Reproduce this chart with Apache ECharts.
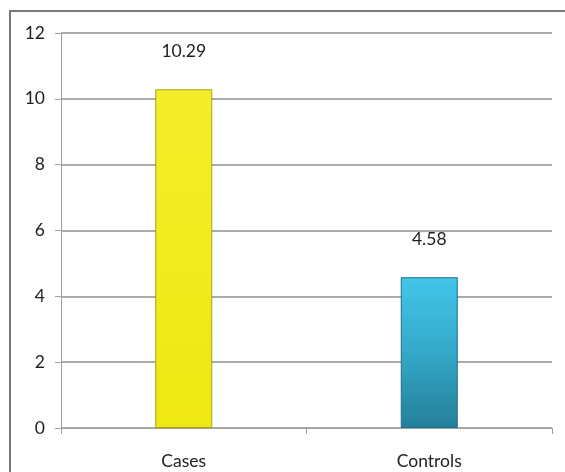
<!DOCTYPE html>
<html><head><meta charset="utf-8">
<script src="https://cdn.jsdelivr.net/npm/echarts@6/dist/echarts.min.js"></script>
<style>html,body{margin:0;padding:0;background:#fff}#c{width:565px;height:472px}</style>
</head><body><div id="c"></div>
<script>
const categories = ["Cases", "Controls"];
const values = [10.29, 4.58];
const valueLabels = ["10.29", "4.58"];
const yTicks = [0, 2, 4, 6, 8, 10, 12];

const chart = echarts.init(document.getElementById('c'));
const FONT = 'Lato, Open Sans, sans-serif';
const barStyles = [
  {color: new echarts.graphic.LinearGradient(0,0,0,1,[{offset:0,color:'#f4ee2a'},{offset:1,color:'#efe812'}]), borderColor:'#a8a418', borderWidth:1},
  {color: new echarts.graphic.LinearGradient(0,0,0,1,[{offset:0,color:'#42c6ea'},{offset:0.5,color:'#34a8c8'},{offset:1,color:'#257f99'}]), borderColor:'#1f6f86', borderWidth:1}
];
chart.setOption({
  animation:false,
  graphic:[{type:'rect', shape:{x:10,y:11,width:620,height:520}, style:{fill:'none', stroke:'#7a7a7a', lineWidth:2}, silent:true}],
  grid:{left:61, right:13, top:33, bottom:44},
  xAxis:{type:'category', data:categories,
    axisLine:{lineStyle:{color:'#a0a0a0', width:1}},
    axisTick:{show:true, length:6, lineStyle:{color:'#a0a0a0'}},
    axisLabel:{color:'#222', fontSize:17.5, fontFamily:FONT, margin:24}
  },
  yAxis:{type:'value', min:yTicks[0], max:yTicks[yTicks.length-1], interval:2,
    axisLine:{show:true, lineStyle:{color:'#a0a0a0'}},
    axisTick:{show:true, length:6, lineStyle:{color:'#a0a0a0'}},
    splitLine:{lineStyle:{color:'#ababab', width:2}},
    axisLabel:{color:'#222', fontSize:17.5, fontFamily:FONT, margin:16}
  },
  series:[{type:'bar', barWidth:57,
    data: values.map((v,i)=>({value:v, itemStyle:barStyles[i], label:{formatter:valueLabels[i]}})),
    label:{show:true, position:'top', distance:29, color:'#222', fontSize:17.5, fontFamily:FONT}
  }]
});
</script></body></html>
